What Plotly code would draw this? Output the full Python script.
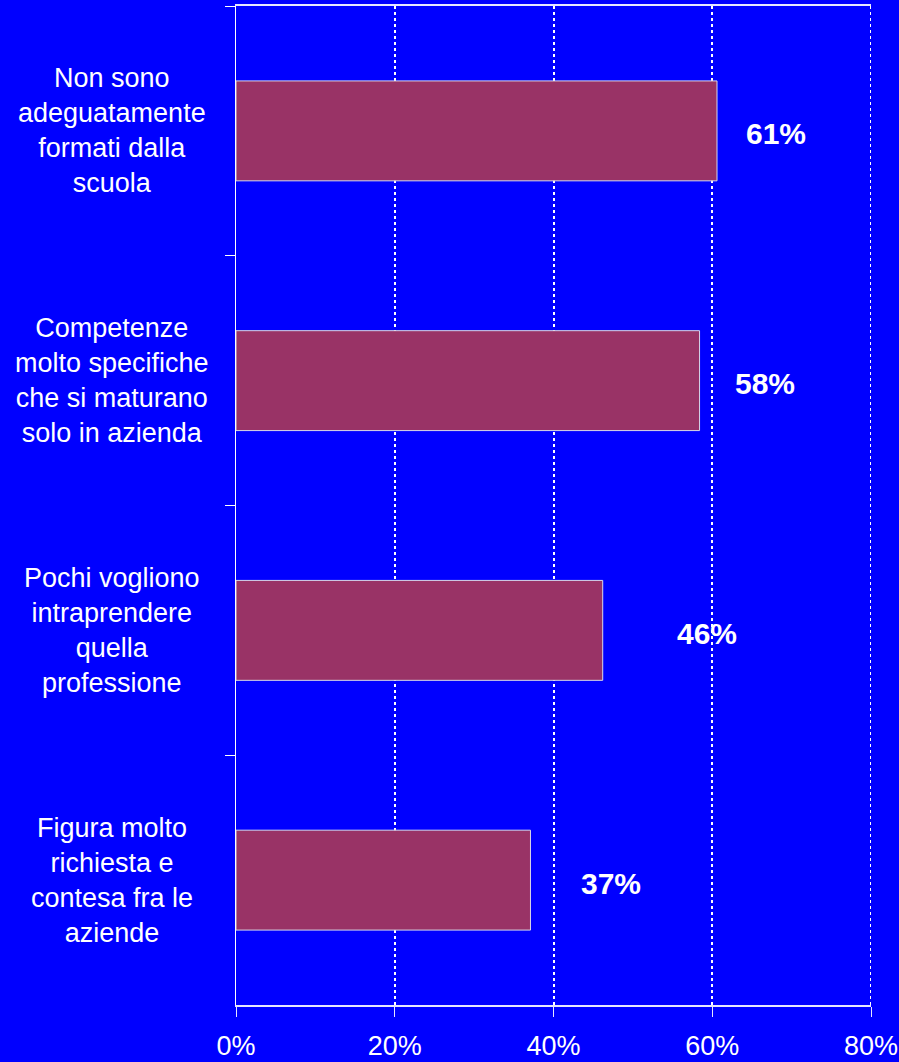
import plotly.graph_objects as go

categories = [
    "Non sono<br>adeguatamente<br>formati dalla<br>scuola",
    "Competenze<br>molto specifiche<br>che si maturano<br>solo in azienda",
    "Pochi vogliono<br>intraprendere<br>quella<br>professione",
    "Figura molto<br>richiesta e<br>contesa fra le<br>aziende",
]
values = [60.6, 58.4, 46.2, 37.1]
label_x = [68.0, 66.6, 59.4, 47.2]
x_ticks = [0, 20, 40, 60, 80]
x_tick_text = ["0%", "20%", "40%", "60%", "80%"]

FONT = "Liberation Sans, Arial, sans-serif"
BG = "#0000FF"

fig = go.Figure()
fig.add_trace(go.Bar(
    y=categories,
    x=values,
    orientation="h",
    width=0.4,
    marker=dict(color="#993366", line=dict(color="#d8d8e8", width=1)),
    hoverinfo="skip",
))

for cat, v, lx in zip(categories, values, label_x):
    fig.add_annotation(
        x=lx, y=cat, xref="x", yref="y",
        text=f"<b>{round(v)}%</b>", showarrow=False,
        font=dict(family=FONT, size=30, color="white"),
        xanchor="center", yanchor="middle", yshift=-3,
    )
    fig.add_annotation(
        x=-0.195, y=cat, xref="paper", yref="y",
        text=cat, showarrow=False, align="center",
        font=dict(family=FONT, size=27, color="white"),
        xanchor="center", yanchor="middle",
    )

# dotted gridline at the last tick (plot edge)
fig.add_shape(
    type="line", xref="x", yref="paper",
    x0=x_ticks[-1], x1=x_ticks[-1], y0=0, y1=1,
    line=dict(color="white", width=2, dash="dot"),
)

fig.update_layout(
    width=899, height=1062,
    paper_bgcolor=BG, plot_bgcolor=BG,
    margin=dict(l=236, r=28, t=6, b=57, autoexpand=False),
    showlegend=False,
    bargap=0.6,
    font=dict(family=FONT, color="white"),
    xaxis=dict(
        range=[0, 80],
        tickvals=x_ticks, ticktext=x_tick_text,
        tickfont=dict(family=FONT, size=27, color="white"),
        ticklabelstandoff=6,
        showgrid=True, gridcolor="white", gridwidth=2, griddash="dot",
        showline=True, linecolor="#e6e6ff", linewidth=2, mirror=True,
        ticks="outside", ticklen=10, tickcolor="#e6e6ff", tickwidth=1,
        zeroline=False, fixedrange=True, automargin=False,
    ),
    yaxis=dict(
        autorange="reversed",
        showticklabels=False,
        showgrid=False,
        showline=True, linecolor="white", linewidth=1,
        ticks="outside", ticklen=10, tickcolor="white", tickson="boundaries",
        zeroline=False, fixedrange=True, automargin=False,
    ),
)

fig.write_html(
    "out.html",
    config={"displayModeBar": False},
    post_script="document.body.style.margin='0';document.body.style.overflow='hidden';",
)
